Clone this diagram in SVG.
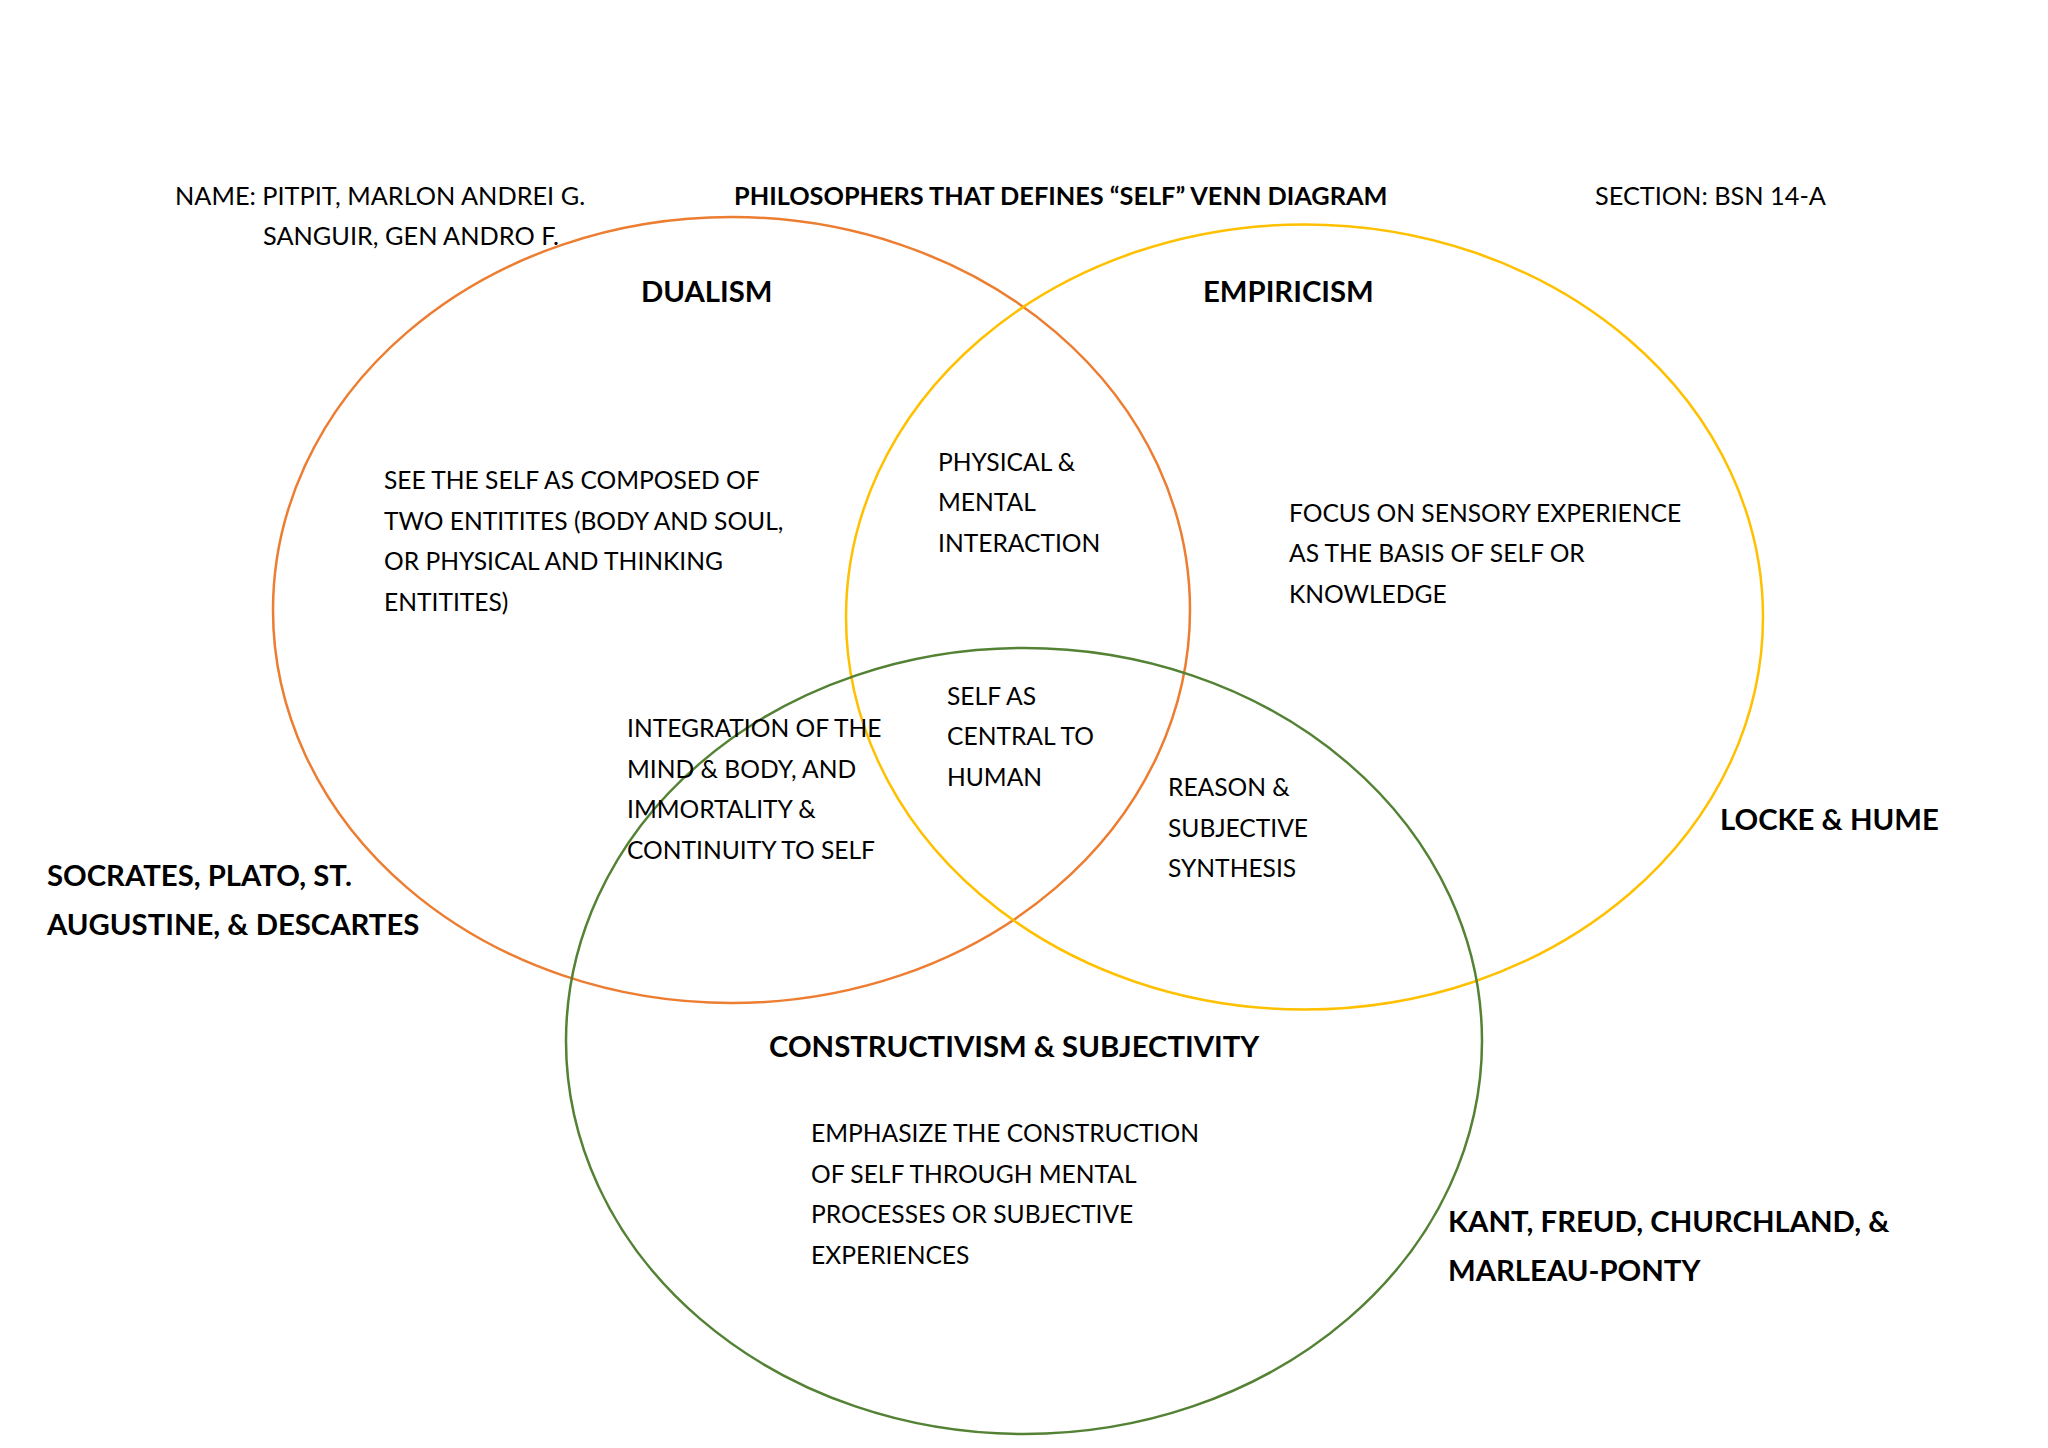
<svg xmlns="http://www.w3.org/2000/svg" width="2048" height="1448" viewBox="0 0 2048 1448">
<style>
.t{font-family:Lato,"Liberation Sans",sans-serif;font-size:24.6px;fill:#000}
.h{font-family:Lato,"Liberation Sans",sans-serif;font-size:25.3px;fill:#000}
.b{font-family:Lato,"Liberation Sans",sans-serif;font-size:29.3px;font-weight:bold;fill:#000}
.ring{fill:none;stroke-width:2.5}
</style>
<rect width="2048" height="1448" fill="#fff"/>
<g id="header">
<text class="h" x="175" y="205">NAME: PITPIT, MARLON ANDREI G.</text>
<text class="h" x="263" y="245">SANGUIR, GEN ANDRO F.</text>
<text class="h" x="734" y="205" font-weight="bold">PHILOSOPHERS THAT DEFINES “SELF” VENN DIAGRAM</text>
<text class="h" x="1595" y="205">SECTION: BSN 14-A</text>
</g>
<g id="dualism">
<ellipse class="ring" cx="731.5" cy="610" rx="458.5" ry="393" stroke="#ED7D31"/>
<text class="b" x="641" y="302">DUALISM</text>
<text class="t" x="384"><tspan x="384" y="489">SEE THE SELF AS COMPOSED OF</tspan><tspan x="384" y="530">TWO ENTITITES (BODY AND SOUL,</tspan><tspan x="384" y="570">OR PHYSICAL AND THINKING</tspan><tspan x="384" y="611">ENTITITES)</tspan></text>
<text class="b" x="47"><tspan x="47" y="886">SOCRATES, PLATO, ST.</tspan><tspan x="47" y="935">AUGUSTINE, &amp; DESCARTES</tspan></text>
</g>
<g id="empiricism">
<ellipse class="ring" cx="1304.5" cy="617" rx="458.5" ry="392.5" stroke="#FFC000"/>
<text class="b" x="1203" y="302">EMPIRICISM</text>
<text class="t" x="1289"><tspan x="1289" y="522">FOCUS ON SENSORY EXPERIENCE</tspan><tspan x="1289" y="562">AS THE BASIS OF SELF OR</tspan><tspan x="1289" y="603">KNOWLEDGE</tspan></text>
<text class="b" x="1720" y="830">LOCKE &amp; HUME</text>
</g>
<g id="constructivism">
<ellipse class="ring" cx="1024" cy="1041" rx="458" ry="393" stroke="#548235"/>
<text class="b" x="769" y="1057">CONSTRUCTIVISM &amp; SUBJECTIVITY</text>
<text class="t" x="811"><tspan x="811" y="1142">EMPHASIZE THE CONSTRUCTION</tspan><tspan x="811" y="1183">OF SELF THROUGH MENTAL</tspan><tspan x="811" y="1223">PROCESSES OR SUBJECTIVE</tspan><tspan x="811" y="1264">EXPERIENCES</tspan></text>
<text class="b" x="1448"><tspan x="1448" y="1232">KANT, FREUD, CHURCHLAND, &amp;</tspan><tspan x="1448" y="1281">MARLEAU-PONTY</tspan></text>
</g>
<g id="overlap-dualism-empiricism">
<text class="t" x="938"><tspan x="938" y="471">PHYSICAL &amp;</tspan><tspan x="938" y="511">MENTAL</tspan><tspan x="938" y="552">INTERACTION</tspan></text>
</g>
<g id="overlap-all">
<text class="t" x="947"><tspan x="947" y="705">SELF AS</tspan><tspan x="947" y="745">CENTRAL TO</tspan><tspan x="947" y="786">HUMAN</tspan></text>
</g>
<g id="overlap-dualism-constructivism">
<text class="t" x="627"><tspan x="627" y="737">INTEGRATION OF THE</tspan><tspan x="627" y="778">MIND &amp; BODY, AND</tspan><tspan x="627" y="818">IMMORTALITY &amp;</tspan><tspan x="627" y="859">CONTINUITY TO SELF</tspan></text>
</g>
<g id="overlap-empiricism-constructivism">
<text class="t" x="1168"><tspan x="1168" y="796">REASON &amp;</tspan><tspan x="1168" y="837">SUBJECTIVE</tspan><tspan x="1168" y="877">SYNTHESIS</tspan></text>
</g>
<g id="connectors"></g>
</svg>
